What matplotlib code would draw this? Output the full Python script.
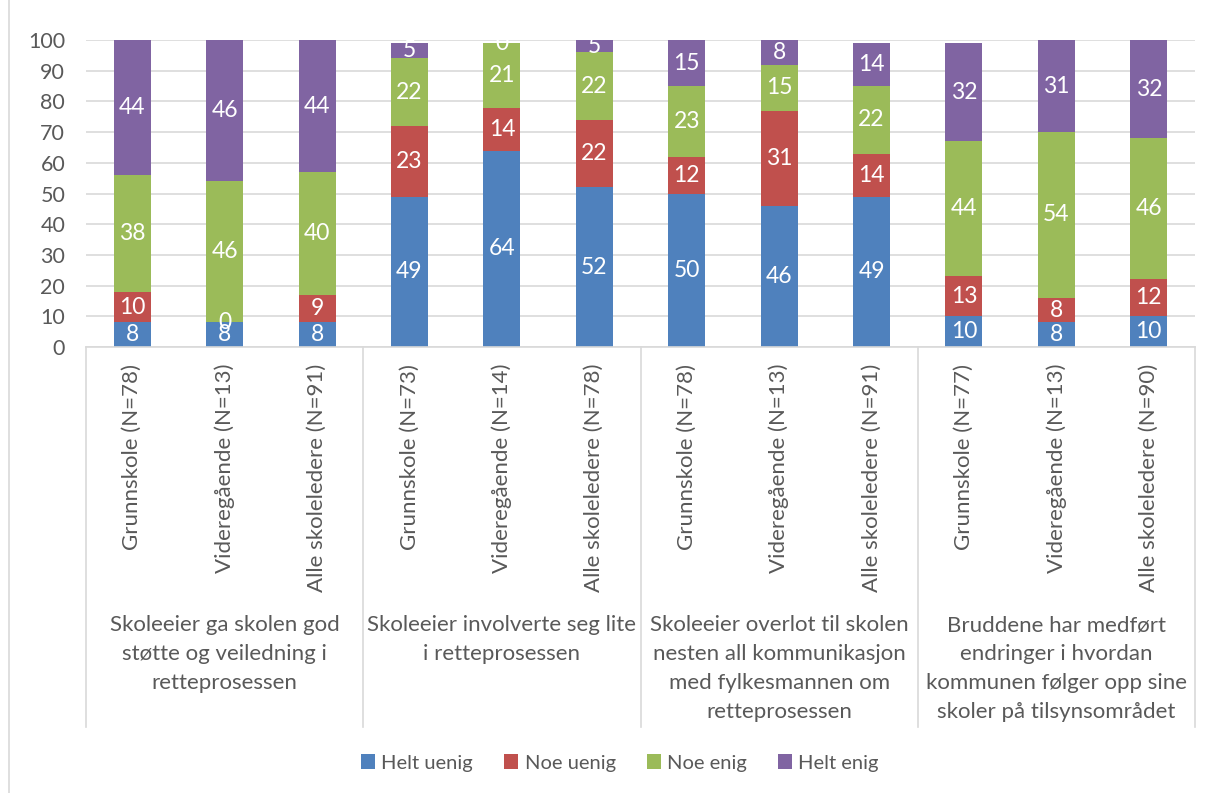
import matplotlib
matplotlib.use('Agg')
import matplotlib.pyplot as plt
import numpy as np

plt.rcParams['font.family'] = ['Lato', 'DejaVu Sans']

# Data
groups = ['Skoleeier ga skolen god\nstøtte og veiledning i\nretteprosessen',
          'Skoleeier involverte seg lite\ni retteprosessen',
          'Skoleeier overlot til skolen\nnesten all kommunikasjon\nmed fylkesmannen om\nretteprosessen',
          'Bruddene har medført\nendringer i hvordan\nkommunen følger opp sine\nskoler på tilsynsområdet']
categories = ['Grunnskole (N=78)', 'Videregående (N=13)', 'Alle skoleledere (N=91)',
              'Grunnskole (N=73)', 'Videregående (N=14)', 'Alle skoleledere (N=78)',
              'Grunnskole (N=78)', 'Videregående (N=13)', 'Alle skoleledere (N=91)',
              'Grunnskole (N=77)', 'Videregående (N=13)', 'Alle skoleledere (N=90)']
series = ['Helt uenig', 'Noe uenig', 'Noe enig', 'Helt enig']
helt_uenig = [8, 8, 8, 49, 64, 52, 50, 46, 49, 10, 8, 10]
noe_uenig = [10, 0, 9, 23, 14, 22, 12, 31, 14, 13, 8, 12]
noe_enig = [38, 46, 40, 22, 21, 22, 23, 15, 22, 44, 54, 46]
helt_enig = [44, 46, 44, 5, 0, 5, 15, 8, 14, 32, 31, 32]
colors = ['#4F81BD', '#C0504D', '#9BBB59', '#8064A2']

W, H = 1206, 793
fig = plt.figure(figsize=(W / 100, H / 100), dpi=100)
ax = fig.add_axes([86 / W, 1 - 347 / H, (1195 - 86) / W, (347 - 40) / H])

x = np.arange(len(categories))
bottom = np.zeros(len(categories))
for name, vals, col in zip(series, [helt_uenig, noe_uenig, noe_enig, helt_enig], colors):
    vals = np.array(vals, dtype=float)
    ax.bar(x, vals, 0.4, bottom=bottom, color=col, label=name, zorder=2)
    for xi, b, v in zip(x, bottom, vals):
        lo, hi = max(b, 0), min(b + v, 100)
        ax.text(xi, (lo + hi) / 2, f'{int(v)}', ha='center', va='center',
                color='white', fontsize=16.5, zorder=3, clip_on=True)
    bottom += vals

ax.set_xlim(-0.5, len(categories) - 0.5)
ax.set_ylim(0, 100)
ax.set_yticks(range(0, 101, 10))
ax.yaxis.grid(True, color='#D9D9D9', linewidth=1.2, zorder=0)
ax.set_axisbelow(True)
for s in ['top', 'right', 'left']:
    ax.spines[s].set_visible(False)
ax.spines['bottom'].set_color('#D9D9D9')
ax.spines['bottom'].set_linewidth(1.2)
ax.tick_params(axis='y', length=0, labelsize=15.5, labelcolor='#595959', pad=15)
ax.tick_params(axis='x', length=0)
ax.set_xticks([])

# category labels (rotated)
trans = ax.get_xaxis_transform()
for xi, lab in zip(x, categories):
    ax.text(xi, -0.055, lab, rotation=90, ha='center', va='top', fontsize=16,
            color='#595959', transform=trans)

# group separators and labels
sep_bottom = (347 - 727) / (347 - 40)
for b in np.arange(-0.5, len(categories), 3):
    ax.plot([b, b], [0, sep_bottom], color='#D9D9D9', linewidth=1.2,
            transform=trans, clip_on=False)
for gi, g in enumerate(groups):
    ax.text(gi * 3 + 1, (347 - 615) / (347 - 40), g, ha='center', va='top',
            fontsize=16, color='#595959', linespacing=1.57, transform=trans)

# left chart border
fig.add_artist(plt.Line2D([9 / W, 9 / W], [0, 1], color='#D9D9D9', linewidth=1.2))

fig.legend(loc='center', bbox_to_anchor=(620 / W, 1 - 763 / H), ncol=4,
           frameon=False, fontsize=14.5, labelcolor='#595959', handlelength=0.7,
           handleheight=0.7, handletextpad=0.3, columnspacing=1.55)

fig.savefig('out.png', dpi=100)
